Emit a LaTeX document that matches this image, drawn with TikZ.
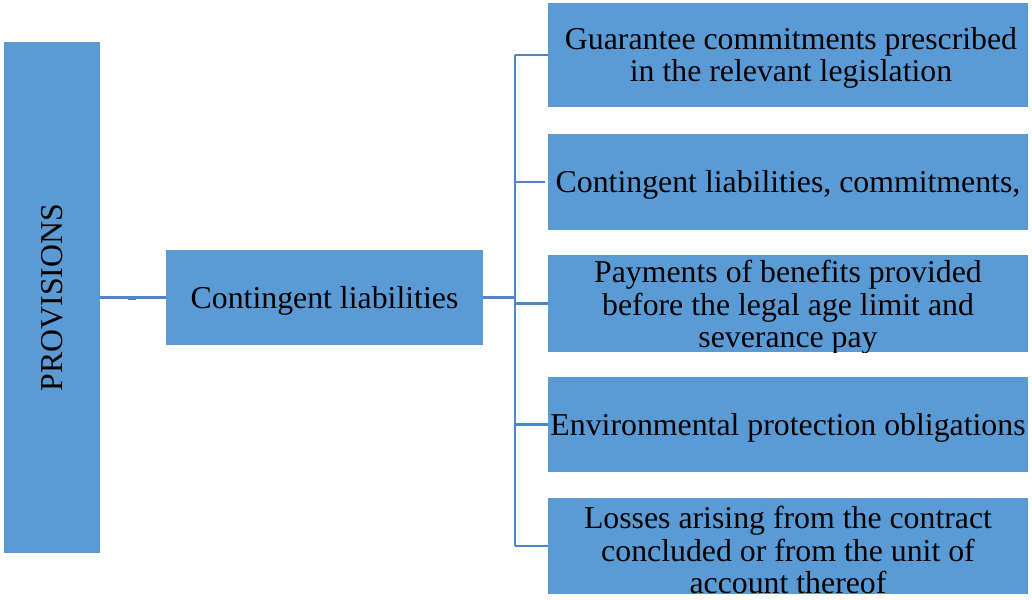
\documentclass[tikz,border=0pt]{standalone}
\usepackage{fontspec}
\setmainfont{Liberation Serif}
\usetikzlibrary{calc}
\definecolor{boxblue}{HTML}{5B9BD5}
\definecolor{linkblue}{HTML}{4F86C6}

\begin{document}
\begin{tikzpicture}[x=1pt,y=-1pt,
  box/.style={fill=boxblue, draw=none, inner sep=0pt, outer sep=0pt},
  txt/.style={font=\fontsize{31.8}{32.5}\selectfont, align=center, text=black, inner sep=0pt},
  link/.style={draw=linkblue, line width=2.2pt}]
\useasboundingbox (0,0) rectangle (1032,599);

% boxes
\node[box, minimum width=96pt,  minimum height=511pt] (prov) at (52,297.5) {};
\node[box, minimum width=317pt, minimum height=95pt]  (cont) at (324.5,297.5) {};
\node[box, minimum width=480pt, minimum height=104pt] (g1) at (788,55) {};
\node[box, minimum width=480pt, minimum height=96pt]  (g2) at (788,182) {};
\node[box, minimum width=480pt, minimum height=97pt]  (g3) at (788,303.5) {};
\node[box, minimum width=480pt, minimum height=95pt]  (g4) at (788,424.5) {};
\node[box, minimum width=480pt, minimum height=96pt]  (g5) at (788,546) {};

% labels
\node[txt, rotate=90] (provt) at (prov.center) {PROVISIONS};
\node[txt] (contt) at ([yshift=-3pt]cont.center) {Contingent liabilities};
\node[txt] (g1t) at ([xshift=3pt,yshift=-3pt]g1.center) {Guarantee commitments prescribed\\in the relevant legislation};
\node[txt] (g2t) at ([yshift=-3pt]g2.center) {Contingent liabilities, commitments,};
\begin{scope}
  \clip (g3.north west) rectangle (g3.south east);
  \node[txt] (g3t) at ([yshift=-4pt]g3.center) {Payments of benefits provided\\before the legal age limit and\\severance pay};
\end{scope}
\node[txt] (g4t) at ([yshift=-3pt]g4.center) {Environmental protection obligations};
\begin{scope}
  \clip (g5.north west) rectangle (g5.south east);
  \node[txt] (g5t) at ([yshift=-4pt]g5.center) {Losses arising from the contract\\concluded or from the unit of\\account thereof};
\end{scope}

% connectors
\draw[link] (prov.east) -- (cont.west);
\coordinate (mid) at ($(prov.east)!0.48!(cont.west)$);
\draw[linkblue, line width=3.5pt] ([xshift=-4pt,yshift=-0.5pt]mid) -- ([xshift=4pt,yshift=-0.5pt]mid);

\coordinate (bx) at (515,297.5);
\draw[link] (cont.east) -- (bx |- cont.east);
\draw[link] (bx |- g1.west) -- (bx |- g5.west);
\draw[link] (bx |- g1.west) -- (g1.west);
\draw[link] (bx |- g2.west) -- ([xshift=-3pt]g2.west);
\draw[link] (bx |- g3.west) -- (g3.west);
\draw[link] (bx |- g4.west) -- (g4.west);
\draw[link] (bx |- g5.west) -- (g5.west);
\end{tikzpicture}
\end{document}
